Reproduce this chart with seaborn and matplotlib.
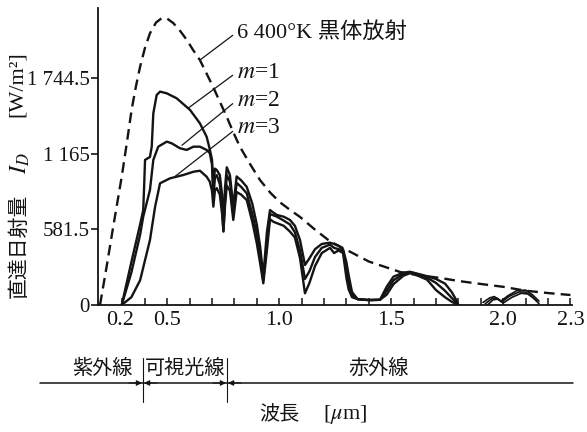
import numpy as np
import pandas as pd
import matplotlib
matplotlib.use("Agg")
import matplotlib.pyplot as plt
import seaborn as sns
from matplotlib.lines import Line2D

# ---------------- data ----------------
# 6400 K black body (dashed)
bb_wl = [0.2, 0.23, 0.259, 0.297, 0.32, 0.341, 0.36, 0.379, 0.40, 0.423, 0.45, 0.475,
         0.50, 0.527, 0.558, 0.588, 0.615, 0.646, 0.675, 0.705, 0.735, 0.766, 0.795,
         0.825, 0.87, 0.914, 0.96, 1.004, 1.05, 1.093, 1.16, 1.227, 1.3, 1.4, 1.54,
         1.62, 1.72, 1.8, 1.9, 2.0, 2.1, 2.2, 2.3]
bb_val = [0, 300, 603, 988, 1250, 1502, 1680, 1835, 1975, 2092, 2175, 2208,
          2205, 2171, 2110, 2040, 1965, 1886, 1785, 1679, 1565, 1448, 1330,
          1217, 1085, 963, 865, 790, 730, 678, 580, 490, 425, 335, 254,
          230, 208, 185, 162, 140, 110, 92, 77]

# visible part, each air mass
m1_wl = [0.297, 0.34, 0.379, 0.393, 0.398, 0.401, 0.423, 0.431, 0.438, 0.453, 0.468,
         0.498, 0.542, 0.602, 0.646, 0.676]
m1_vis = [0, 330, 620, 730, 960, 1117, 1140, 1220, 1476, 1617, 1643,
          1630, 1592, 1502, 1399, 1296]
m2_wl = [0.297, 0.34, 0.379, 0.393, 0.423, 0.438, 0.46, 0.498, 0.52, 0.557, 0.587,
         0.617, 0.646, 0.676]
m2_vis = [0, 250, 540, 680, 886, 1117, 1219, 1258, 1245, 1207, 1194,
          1219, 1219, 1194]
m3_wl = [0.297, 0.34, 0.379, 0.423, 0.446, 0.468, 0.512, 0.572, 0.617, 0.646, 0.676]
m3_vis = [0, 60, 190, 500, 757, 937, 975, 1001, 1026, 1034, 988]

# infrared part (shared wavelengths)
ir_wl = [0.69, 0.70, 0.706, 0.713, 0.721, 0.735, 0.745, 0.751, 0.758, 0.766, 0.78,
         0.795, 0.81, 0.83, 0.855, 0.88, 0.9, 0.915, 0.929, 0.945, 0.959, 0.975,
         0.99, 1.02, 1.048, 1.07, 1.093, 1.115, 1.135, 1.16, 1.19, 1.227, 1.245,
         1.265, 1.285, 1.30, 1.31, 1.325, 1.35, 1.40, 1.45, 1.48, 1.51, 1.554,
         1.584, 1.62, 1.66, 1.70, 1.74, 1.77, 1.79, 1.80]
m1_ir = [1200, 1120, 900, 1050, 1040, 1000, 850, 600, 900, 1060, 1000,
         760, 990, 960, 910, 780, 620, 450, 220, 560, 731, 710,
         693, 680, 655, 610, 500, 308, 360, 430, 470, 480, 470,
         455, 430, 330, 230, 100, 45, 38, 40, 141, 218, 249,
         256, 240, 222, 200, 165, 100, 40, 0]
m2_ir = [1170, 1080, 820, 980, 1000, 930, 760, 570, 800, 1000, 950,
         700, 940, 910, 860, 700, 550, 380, 190, 480, 700, 690,
         680, 650, 620, 560, 420, 200, 260, 370, 440, 465, 440,
         430, 420, 260, 170, 80, 45, 38, 40, 110, 190, 240,
         252, 235, 210, 170, 110, 55, 20, 0]
m3_ir = [950, 880, 757, 880, 900, 850, 700, 565, 760, 920, 880,
         655, 870, 850, 808, 640, 475, 320, 167, 420, 660, 640,
         630, 610, 565, 520, 360, 90, 170, 300, 400, 440, 400,
         420, 400, 210, 120, 60, 45, 38, 40, 80, 160, 225,
         245, 225, 195, 115, 60, 25, 8, 0]

# small band near 2 um
m1_b_wl = [1.91, 1.94, 1.96, 1.99, 2.02, 2.06, 2.10, 2.13, 2.16]
m1_b = [20, 55, 65, 30, 70, 110, 115, 80, 30]
m2_b_wl = [1.92, 1.95, 1.97, 1.995, 2.03, 2.07, 2.10, 2.13, 2.15]
m2_b = [10, 50, 55, 25, 70, 100, 100, 65, 30]
m3_b_wl = [1.93, 1.955, 1.975, 2.0, 2.04, 2.08, 2.11, 2.14, 2.16]
m3_b = [0, 40, 45, 15, 60, 90, 85, 45, 10]

y_ticks = [0, 581.5, 1165, 1744.5]
y_ticklabels = ["0", "581.5", "1 165", "1 744.5"]
x_ticks = [0.289, 0.5, 1.0, 1.5, 2.0, 2.3]
x_ticklabels = ["0.2", "0.5", "1.0", "1.5", "2.0", "2.3"]
series_labels = ["$m$=1", "$m$=2", "$m$=3"]

# ---------------- style ----------------
sns.set_style("ticks")
plt.rcParams["font.family"] = ["Liberation Serif", "Noto Sans CJK JP", "DejaVu Sans"]
plt.rcParams["mathtext.fontset"] = "stix"
INK = "#141414"
CJK = ["Noto Sans CJK JP", "DejaVu Sans"]

W, H = 587, 432
fig = plt.figure(figsize=(W / 100, H / 100), dpi=100)
fig.patch.set_facecolor("white")
ax = fig.add_axes([98 / W, 1 - 305 / H, (572 - 98) / W, (305 - 8) / H])
ax.set_facecolor("white")


def fp(px, py):
    return (px / W, 1 - py / H)


lw = 1.7
curves = [
    (m1_wl + ir_wl, m1_vis + m1_ir, m1_b_wl, m1_b),
    (m2_wl + ir_wl, m2_vis + m2_ir, m2_b_wl, m2_b),
    (m3_wl + ir_wl, m3_vis + m3_ir, m3_b_wl, m3_b),
]
for wl, val, bwl, bval in curves:
    sns.lineplot(x=wl, y=val, ax=ax, color=INK, lw=lw, sort=False, estimator=None)
    sns.lineplot(x=bwl, y=bval, ax=ax, color=INK, lw=1.2, sort=False, estimator=None)

sns.lineplot(x=bb_wl, y=bb_val, ax=ax, color=INK, lw=1.7, sort=False,
             estimator=None, linestyle=(0, (4.5, 2.6)))

ax.set_xlim(0.2 - 2 / 224, 0.2 - 2 / 224 + 474 / 224)
ax.set_ylim(0, 297 * 7.70)
sns.despine(ax=ax)
for s in ["left", "bottom"]:
    ax.spines[s].set_linewidth(1.3)
    ax.spines[s].set_color(INK)

ax.set_xticks(x_ticks, x_ticklabels)
ax.set_xticks(np.arange(0.3, 2.31, 0.1), minor=True)
ax.xaxis.remove_overlapping_locs = False
ax.tick_params(axis="x", which="major", length=0, pad=4, labelsize=16, colors=INK)
ax.tick_params(axis="x", which="minor", direction="in", length=5, width=1.1, color=INK)
ax.set_yticks(y_ticks, y_ticklabels)
ax.tick_params(axis="y", which="major", direction="out", length=5, width=1.2,
               pad=1, labelsize=15, colors=INK)
ax.set_xlabel("")
ax.set_ylabel("")

# annotations with leader lines
arrow = dict(arrowstyle="-", lw=0.9, color=INK, shrinkA=1, shrinkB=0,
             relpos=(0, 0.5))
ax.annotate("6 400°K 黒体放射", xy=(0.646, 1886), xytext=(0.812, 2102),
            ha="left", va="center", fontsize=16, color=INK,
            family=["Liberation Serif", "Noto Sans CJK JP"], arrowprops=arrow)
targets = [(0.593, 1515), (0.566, 1230), (0.535, 990)]
text_y = [1794, 1578, 1363]
for lab, tg, ty in zip(series_labels, targets, text_y):
    ax.annotate(lab, xy=tg, xytext=(0.812, ty), ha="left", va="center",
                fontsize=17, color=INK, arrowprops=arrow)

# y label (vertical, three parts)
fig.text(*fp(19, 246), "直達日射量", rotation=90, ha="center", va="center",
         fontsize=15, family=CJK, color=INK)
fig.text(*fp(20, 163), "$I_D$", rotation=90, ha="center", va="center",
         fontsize=17, color=INK)
fig.text(*fp(17, 84), "[W/m²]", rotation=90, ha="center", va="center",
         fontsize=16, color=INK)

# spectral band bar below the axis
fig.add_artist(Line2D([40 / W, 573 / W], [1 - 383 / H] * 2,
                      transform=fig.transFigure, lw=1.1, color=INK))
for bx in [143, 227]:
    fig.add_artist(Line2D([bx / W] * 2, [1 - 358 / H, 1 - 402 / H],
                          transform=fig.transFigure, lw=0.8, color=INK))
    for d in (-1, 1):
        ax.annotate("", xy=fp(bx + d * 1, 383), xytext=fp(bx + d * 14, 383),
                    xycoords="figure fraction", textcoords="figure fraction",
                    arrowprops=dict(arrowstyle="-|>", mutation_scale=8, lw=0.8,
                                    color=INK, shrinkA=0, shrinkB=0))

fig.text(*fp(102, 368), "紫外線", ha="center", va="center", fontsize=14.5,
         family=CJK, color=INK)
fig.text(*fp(185, 368), "可視光線", ha="center", va="center", fontsize=14.5,
         family=CJK, color=INK)
fig.text(*fp(379, 368), "赤外線", ha="center", va="center", fontsize=14.5,
         family=CJK, color=INK)
fig.text(*fp(279, 415), "波長", ha="center", va="center", fontsize=14.5,
         family=CJK, color=INK)
fig.text(*fp(345, 415), "[$\\mu$m]", ha="center", va="center", fontsize=16,
         color=INK)

fig.savefig("out.png", dpi=100, facecolor="white")
